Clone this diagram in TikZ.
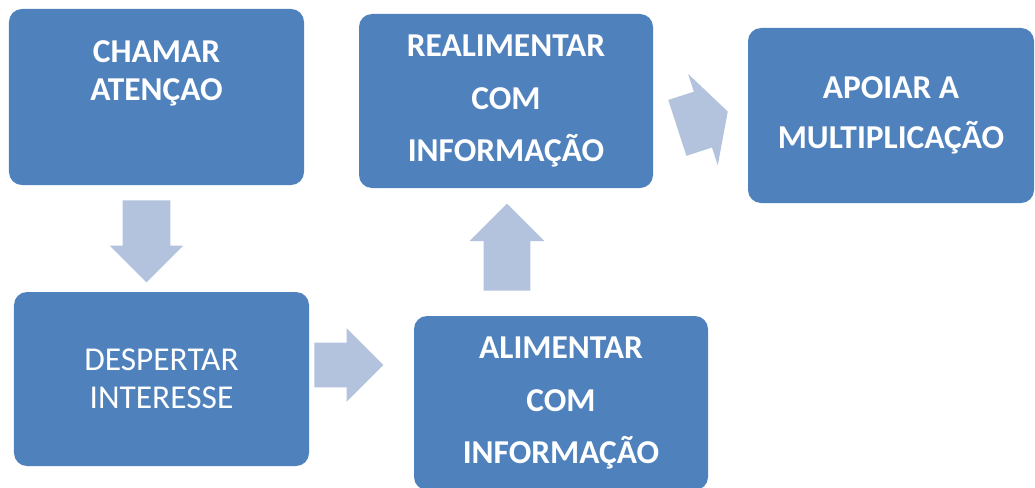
\documentclass[tikz,border=0pt]{standalone}
\usepackage{fontspec}
\setmainfont{Carlito}
\usetikzlibrary{shapes.arrows}
\definecolor{stage}{HTML}{4F81BD}
\definecolor{flow}{HTML}{B3C2DD}
\tikzset{box/.style={fill=stage,rounded corners=2.6mm,align=center,text=white,minimum width=59mm,minimum height=34.8mm,inner sep=2pt,font=\bfseries\fontsize{19}{30}\selectfont},tight/.style={font=\bfseries\fontsize{19}{21.6}\selectfont},plain/.style={font=\fontsize{19}{21.6}\selectfont},blk/.style={single arrow,fill=flow,inner xsep=0pt,anchor=tail}}
\begin{document}
\begin{tikzpicture}[x=0.2mm,y=-0.2mm]
\useasboundingbox (0,0) rectangle (1035,487);
\node[box,tight,minimum height=35.2mm,text height=17.6mm,text depth=16.2mm] (attn) at (156.5,97) {CHAMAR\\ATENÇAO};
\node[box,plain] (interest) at (161.5,379) {DESPERTAR\\INTERESSE};
\node[box,minimum width=58.8mm] (feed) at (561,403) {ALIMENTAR\\COM\\INFORMAÇÃO};
\node[box,minimum width=58.8mm] (refeed) at (506,101) {REALIMENTAR\\COM\\INFORMAÇÃO};
\node[box,minimum width=57.2mm,minimum height=35mm,font=\bfseries\fontsize{19}{28.5}\selectfont] (support) at (891,115.5) {APOIAR A\\MULTIPLICAÇÃO};
% block arrows between the stages
\node[blk,rotate=-90,minimum height=16.4mm,inner ysep=4.7mm,single arrow head extend=2.6mm] (toint) at (146.5,200) {};
\node[blk,minimum height=13.8mm,inner ysep=4.4mm,single arrow head extend=2.9mm] (tofeed) at (314,365) {};
\node[blk,rotate=90,minimum height=17.4mm,inner ysep=4.6mm,single arrow head extend=2.8mm] (torefeed) at (507,291) {};
\node[blk,rotate=18,minimum height=10.6mm,inner ysep=5.8mm,single arrow head extend=3.75mm,single arrow tip angle=123] (tosup) at (677,128) {};
\end{tikzpicture}
\end{document}
